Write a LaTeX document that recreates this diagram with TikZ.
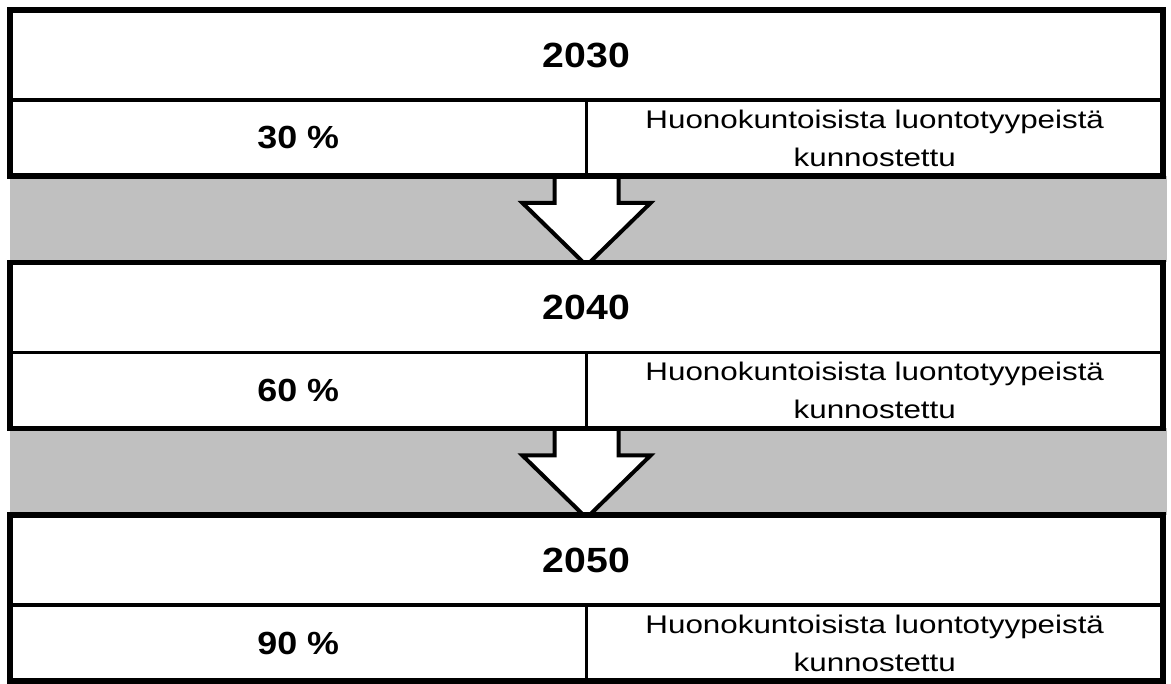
\documentclass[tikz,border=0pt]{standalone}
\usepackage{fontspec}
\setmainfont{Liberation Sans}
\newfontfamily\yearfont[FakeStretch=1.12]{Liberation Sans}
\newfontfamily\notefont[FakeStretch=1.23]{Liberation Sans}
\usetikzlibrary{backgrounds}
\usetikzlibrary{positioning}
\usetikzlibrary{calc}
\definecolor{bandgray}{HTML}{C0C0C0}

\begin{document}
\begin{tikzpicture}[x=1pt, y=-1pt,
  yearcell/.style={draw, line width=3.3pt, fill=white, inner sep=0pt, outer sep=0pt, minimum width=1153pt, minimum height=90pt, font=\yearfont\bfseries\fontsize{35}{40}\selectfont},
  sharecell/.style={draw, line width=3.3pt, fill=white, inner sep=0pt, outer sep=0pt, minimum width=576.5pt, minimum height=76pt, font=\yearfont\bfseries\fontsize{32}{36}\selectfont},
  goalcell/.style={sharecell, align=center, font=\notefont\fontsize{25.5}{38}\selectfont},
  boxframe/.style={draw, line width=5.5pt},
  band/.style={fill=bandgray},
  blockarrow/.style={draw, fill=white, line width=4pt, line join=miter}]
\useasboundingbox (0,0) rectangle (1171,684);

% the three target years
\foreach \n/\yr/\pc in {1/2030/30,2/2040/60,3/2050/90} {
  \node[yearcell] (year\n) at (586.5,{55+252.5*(\n-1)}) {\yr};
  \node[sharecell, below right=0pt and 0pt of year\n.south west] (share\n) {\pc~\%};
  \node[goalcell, right=0pt of share\n] (goal\n) {Huonokuntoisista luontotyypeistä\\kunnostettu};
  \draw[boxframe] (year\n.north west) rectangle (goal\n.south east);
}

% grey bands and arrows between the boxes
\begin{scope}[on background layer]
\foreach \n/\m in {1/2,2/3} {
  \fill[band] (share\n.south west) rectangle ($(year\m.north east)+(4,0)$);
  \draw[blockarrow] ($(share\n.south east)+(-32,0)$) -- ++(0,27) -- ++(-32,0)
    -- ($(year\m.north)+(0,3)$) -- ($(share\n.south east)+(64,27)$) -- ++(-32,0) -- ++(0,-27);
}
\end{scope}
\end{tikzpicture}
\end{document}
